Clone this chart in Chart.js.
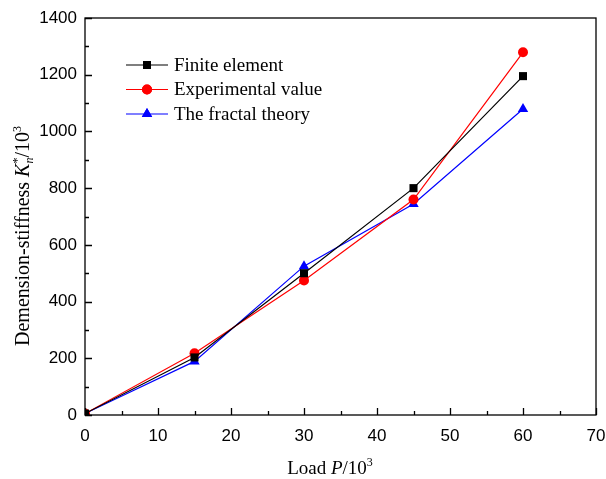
<!DOCTYPE html>
<html>
<head>
<meta charset="utf-8">
<script src="https://cdn.jsdelivr.net/npm/chart.js@4.4.0/dist/chart.umd.min.js"></script>
<style>
  html, body { margin: 0; padding: 0; background: #fff; }
  #wrap { width: 606px; height: 479px; }
</style>
</head>
<body>
<div id="wrap"><canvas id="mycanvas" width="606" height="479"></canvas></div>
<script>
// load P / 10^3
var loads = [0, 15, 30, 45, 60];
var finiteElement = [5, 203, 500, 800, 1195];
var experimental = [5, 218, 474, 760, 1279];
var fractalTheory = [5, 189, 525, 744, 1079];
var xTicks = [0, 10, 20, 30, 40, 50, 60, 70];
var yTicks = [0, 200, 400, 600, 800, 1000, 1200, 1400];

function pts(ys) {
	var out = [];
	for (var i in loads) out.push({x: loads[i], y: ys[i]});
	return out;
}

var serif = '"Liberation Serif", "Times New Roman", serif';
var sans = '"Liberation Sans", Arial, sans-serif';

// draws a sequence of text pieces: [text, style, shift, sizeFactor, stack]
function drawPieces(ctx, pieces, x, y, size) {
	var total = 0, widths = [];
	pieces.forEach(function(p) {
		ctx.font = (p[1] || '') + ' ' + Math.round(size * (p[3] || 1)) + 'px ' + serif;
		var w = p[4] === 'stack' ? 0 : ctx.measureText(p[0]).width;
		widths.push(w);
		total += w;
	});
	var cx = x - total / 2;
	pieces.forEach(function(p, i) {
		ctx.font = (p[1] || '') + ' ' + Math.round(size * (p[3] || 1)) + 'px ' + serif;
		ctx.fillText(p[0], cx, y + (p[2] || 0));
		cx += widths[i];
	});
}

var framePlugin = {
	id: 'frame',
	afterDraw: function(chart) {
		var ctx = chart.ctx, a = chart.chartArea;
		var xs = chart.scales.x, ys = chart.scales.y;
		ctx.save();
		ctx.strokeStyle = '#000';
		ctx.lineWidth = 1.3;
		ctx.strokeRect(a.left, a.top, a.right - a.left, a.bottom - a.top);
		ctx.beginPath();
		for (var v = 0; v <= 70; v += 5) {
			var px = Math.round(xs.getPixelForValue(v)) + 0.5;
			var len = v % 10 === 0 ? 7 : 4;
			ctx.moveTo(px, a.bottom);
			ctx.lineTo(px, a.bottom - len);
		}
		for (var w = 0; w <= 1400; w += 100) {
			var py = Math.round(ys.getPixelForValue(w)) + 0.5;
			var l2 = w % 200 === 0 ? 7 : 4;
			ctx.moveTo(a.left, py);
			ctx.lineTo(a.left + l2, py);
		}
		ctx.stroke();

		// legend
		var rows = [
			['Finite element', '#000000', 'rect', 5.7],
			['Experimental value', '#ff0000', 'circle', 5],
			['The fractal theory', '#0000ff', 'triangle', 6]
		];
		ctx.textBaseline = 'middle';
		rows.forEach(function(r, i) {
			var y = 65 + i * 24.5;
			ctx.strokeStyle = r[1];
			ctx.lineWidth = 1.2;
			ctx.beginPath();
			ctx.moveTo(126, y);
			ctx.lineTo(168, y);
			ctx.stroke();
			ctx.fillStyle = r[1];
			Chart.helpers.drawPoint(ctx, {pointStyle: r[2], radius: r[3], borderWidth: 0, rotation: 0}, 147, y);
			ctx.fill();
			ctx.fillStyle = '#000';
			ctx.textAlign = 'left';
			ctx.font = '19px ' + serif;
			ctx.fillText(r[0], 174, y + 1);
		});

		// axis titles
		ctx.fillStyle = '#000';
		ctx.textAlign = 'left';
		ctx.textBaseline = 'alphabetic';
		drawPieces(ctx, [
			['Load ', ''], ['P', 'italic'], ['/10', ''], ['3', '', -8, 0.62]
		], 330, 474, 19);

		ctx.translate(29, 236);
		ctx.rotate(-Math.PI / 2);
		drawPieces(ctx, [
			['Demension-stiffness ', ''], ['K', 'italic'], ['*', '', -8, 0.62, 'stack'],
			['n', 'italic', 4, 0.62], ['/10', ''], ['3', '', -8, 0.62]
		], 0, 0, 20);
		ctx.restore();
	}
};

var ctx = document.getElementById('mycanvas');

var chart = new Chart(ctx, {
	type: 'line',
	data: {
		datasets: [
			{
				label: 'Finite element',
				data: pts(finiteElement),
				borderColor: '#000000',
				backgroundColor: '#000000',
				borderWidth: 1.2,
				pointStyle: 'rect',
				pointRadius: 5.7,
				pointBorderWidth: 0
			},
			{
				label: 'Experimental value',
				data: pts(experimental),
				borderColor: '#ff0000',
				backgroundColor: '#ff0000',
				borderWidth: 1.2,
				pointStyle: 'circle',
				pointRadius: 5,
				pointBorderWidth: 0
			},
			{
				label: 'The fractal theory',
				data: pts(fractalTheory),
				borderColor: '#0000ff',
				backgroundColor: '#0000ff',
				borderWidth: 1.2,
				pointStyle: 'triangle',
				pointRadius: 6,
				pointBorderWidth: 0
			}
		]
	},
	options: {
		responsive: false,
		animation: false,
		layout: { padding: { top: 18, right: 10, left: 0, bottom: 0 } },
		plugins: { legend: { display: false }, tooltip: { enabled: false } },
		scales: {
			x: {
				type: 'linear',
				min: 0, max: 70,
				afterFit: function(s) { s.height = 64; s.paddingLeft = 0; s.paddingRight = 0; },
				afterBuildTicks: function(s) { s.ticks = xTicks.map(function(v) { return {value: v}; }); },
				grid: { display: false, drawTicks: false, tickLength: 0 },
				border: { display: false },
				ticks: { color: '#000', padding: 11, maxRotation: 0, autoSkip: false,
					callback: function(v) { return String(v); },
					font: { family: sans, size: 17 } }
			},
			y: {
				min: 0, max: 1400,
				afterFit: function(s) { s.width = 85; s.paddingTop = 0; s.paddingBottom = 0; },
				afterBuildTicks: function(s) { s.ticks = yTicks.map(function(v) { return {value: v}; }); },
				grid: { display: false, drawTicks: false, tickLength: 0 },
				border: { display: false },
				ticks: { color: '#000', padding: 8, autoSkip: false,
					callback: function(v) { return String(v); },
					font: { family: sans, size: 17 } }
			}
		}
	},
	plugins: [framePlugin]
});
</script>
</body>
</html>
